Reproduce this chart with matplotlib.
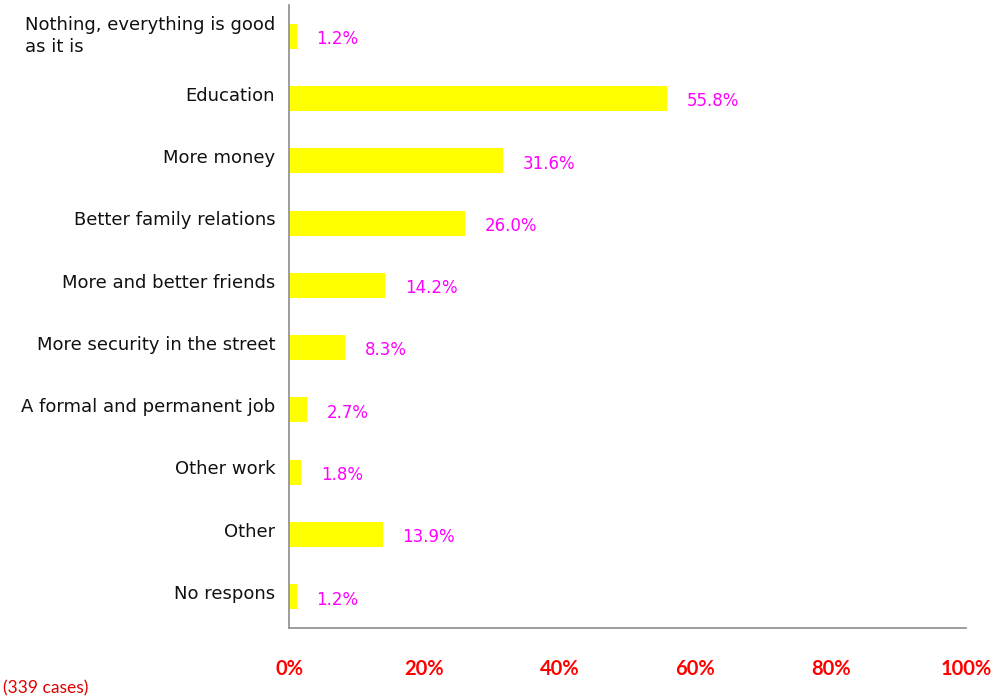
import matplotlib.pyplot as plt

categories = [
    "Nothing, everything is good\nas it is",
    "Education",
    "More money",
    "Better family relations",
    "More and better friends",
    "More security in the street",
    "A formal and permanent job",
    "Other work",
    "Other",
    "No respons",
]
percent = [1.2, 55.8, 31.6, 26.0, 14.2, 8.3, 2.7, 1.8, 13.9, 1.2]
x_ticks = [0, 20, 40, 60, 80, 100]
note = "(339 cases)"


def main():
    fig = plt.figure(figsize=(9.95, 6.98), dpi=100)
    ax = fig.add_axes([0.2905, 0.1003, 0.6804, 0.8925])

    pos = list(range(len(categories)))
    ax.barh(pos, percent, height=0.4, color="#ffff00", edgecolor="none")

    ax.set_xlim(0, 100)
    ax.set_ylim(len(categories) - 0.5, -0.5)

    # value labels to the right of each bar
    for p, v in zip(pos, percent):
        ax.annotate(f"{v:.1f}%", xy=(v, p), xytext=(14, -2),
                    textcoords="offset points", ha="left", va="center",
                    color="#ff00ff", fontsize=12, family="DejaVu Sans")

    # category names, right aligned against the axis
    for p, name in zip(pos, categories):
        ax.annotate(name, xy=(0, p), xytext=(-10, 2 if "\n" not in name else 0),
                    textcoords="offset points", ha="right", va="center",
                    multialignment="left", color="#111111", fontsize=13,
                    family="DejaVu Sans", linespacing=1.25)

    ax.set_yticks([])
    ax.set_xticks(x_ticks)
    ax.set_xticklabels([f"{t}%" for t in x_ticks], color="#ff0000",
                       fontsize=14.5, fontweight="bold", family="Lato")
    ax.tick_params(axis="x", length=0, pad=22)

    for side in ["top", "right"]:
        ax.spines[side].set_visible(False)
    for side in ["left", "bottom"]:
        ax.spines[side].set_color("#8c8c8c")
        ax.spines[side].set_linewidth(1.2)

    fig.text(0.003, 0.014, note, color="#e00000", fontsize=12.5, family="Lato",
             ha="left", va="center")

    fig.savefig("out.png", dpi=100)
    plt.close(fig)


if __name__ == "__main__":
    main()
